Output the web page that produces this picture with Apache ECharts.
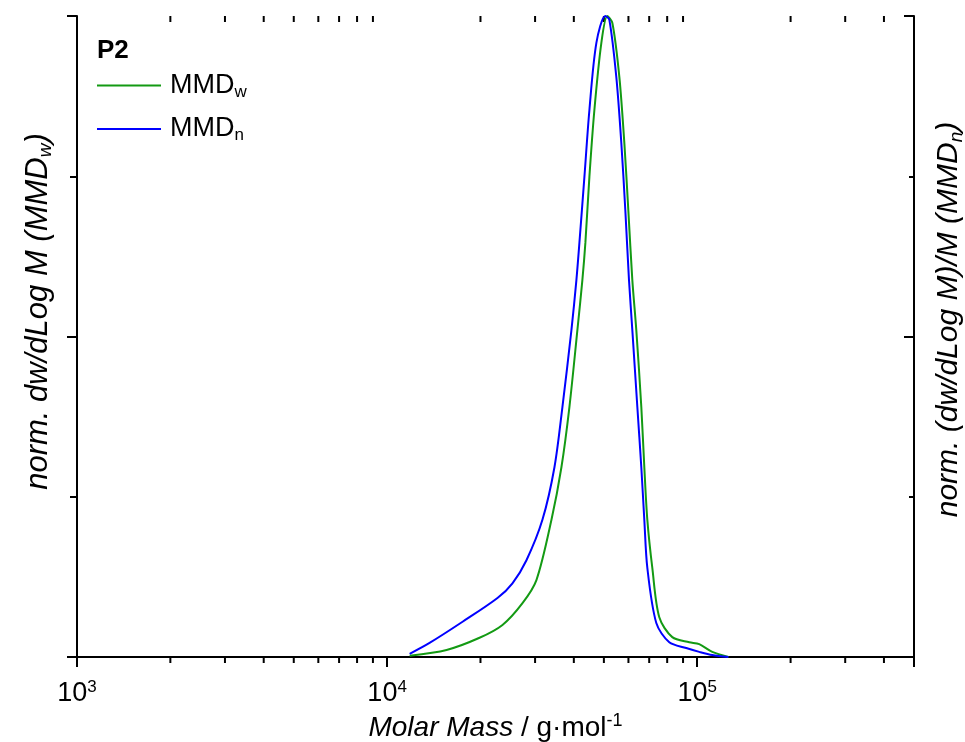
<!DOCTYPE html>
<html>
<head>
<meta charset="utf-8">
<script src="https://cdn.jsdelivr.net/npm/echarts@6/dist/echarts.min.js"></script>
<style>html,body{margin:0;padding:0;background:#fff;}#c{width:965px;height:742px;}</style>
</head>
<body>
<div id="c"></div>
<script>
// Molar mass (g/mol) and normalized intensity
const mmdwM = [11820, 15550, 19860, 23550, 27320, 30300, 33880, 36480, 38710, 41070, 42620, 43580, 44900, 46590, 49070, 51300, 53250, 56080, 58200, 59950, 61760, 63610, 66020, 67510, 69040, 71640, 75450, 83100, 94240, 101500, 111800, 126000];
const mmdwV = [0.002, 0.011, 0.030, 0.050, 0.084, 0.120, 0.214, 0.296, 0.390, 0.510, 0.588, 0.646, 0.749, 0.853, 0.958, 1.000, 0.989, 0.905, 0.802, 0.697, 0.588, 0.510, 0.390, 0.296, 0.214, 0.139, 0.062, 0.031, 0.023, 0.020, 0.008, 0.000];
const mmdnM = [11820, 13706, 17510, 22690, 25360, 28140, 31680, 34640, 36750, 39290, 40770, 41690, 43270, 44900, 47290, 50540, 52070, 54830, 56910, 58630, 60250, 61760, 64100, 66020, 67510, 69040, 73790, 81250, 92170, 101500, 111800, 126000];
const mmdnV = [0.005, 0.022, 0.055, 0.092, 0.115, 0.151, 0.214, 0.296, 0.390, 0.510, 0.588, 0.646, 0.749, 0.853, 0.958, 1.000, 0.994, 0.905, 0.802, 0.697, 0.588, 0.510, 0.390, 0.296, 0.214, 0.139, 0.053, 0.023, 0.014, 0.008, 0.003, 0.000];
const minorTickValues = [2000, 3000, 4000, 5000, 6000, 7000, 8000, 9000, 20000, 30000, 40000, 50000, 60000, 70000, 80000, 90000, 200000, 300000, 400000];
const xMin = 1000, xMax = 500000;
const seriesNames = ['MMD_w', 'MMD_n'];

const FONT = 'Liberation Sans, Arial, sans-serif';
const GREEN = '#139a13', BLUE = '#0000ff';

const chart = echarts.init(document.getElementById('c'), null, {renderer: 'canvas'});

function pow10Label(v) {
  const e = Math.round(Math.log10(v));
  if (Math.abs(v - Math.pow(10, e)) > 1e-6 * v) return '';
  return '{b|10}{s|' + e + '}';
}

const axisLineStyle = {color: '#000', width: 2};

chart.setOption({
  animation: false,
  backgroundColor: '#fff',
  grid: {left: 77, right: 51, top: 16, bottom: 85, containLabel: false, outerBoundsMode: 'none'},
  title: {
    text: 'P2', left: 97, top: 38, padding: 0,
    textStyle: {fontFamily: FONT, fontWeight: 'bold', fontSize: 26, color: '#000'}
  },
  legend: {
    orient: 'vertical', left: 97, top: 72, itemGap: 15, padding: 0,
    icon: 'rect', itemWidth: 64, itemHeight: 2,
    data: seriesNames,
    formatter: function (n) {
      const parts = n.split('_');
      return '{m|' + parts[0] + '}{s|' + parts[1] + '}';
    },
    textStyle: {
      fontFamily: FONT, color: '#000', padding: [0, 0, 0, 4],
      rich: {
        m: {fontSize: 27, lineHeight: 30, fontFamily: FONT, color: '#000'},
        s: {fontSize: 17, lineHeight: 14, verticalAlign: 'bottom', fontFamily: FONT, color: '#000'}
      }
    }
  },
  xAxis: [
    {
      type: 'log', logBase: 10, min: xMin, max: xMax, position: 'bottom',
      axisLine: {show: true, lineStyle: axisLineStyle},
      axisTick: {show: true, inside: false, length: 10, lineStyle: {color: '#000', width: 2}},
      splitLine: {show: false},
      axisLabel: {
        margin: 22, formatter: pow10Label,
        rich: {
          b: {fontFamily: FONT, fontSize: 27, lineHeight: 30, color: '#000'},
          s: {fontFamily: FONT, fontSize: 17, lineHeight: 16, verticalAlign: 'top', color: '#000'}
        }
      },
      name: '{i|Molar Mass}{n| / g·mol}{s|-1}',
      nameLocation: 'middle', nameGap: 48,
      nameTextStyle: {
        rich: {
          i: {fontFamily: FONT, fontSize: 28, fontStyle: 'italic', lineHeight: 32, color: '#000'},
          n: {fontFamily: FONT, fontSize: 28, lineHeight: 32, color: '#000'},
          s: {fontFamily: FONT, fontSize: 18, lineHeight: 16, verticalAlign: 'top', color: '#000'}
        }
      }
    },
    {
      type: 'log', logBase: 10, min: xMin, max: xMax, position: 'top',
      axisLine: {show: true, lineStyle: axisLineStyle},
      axisTick: {show: true, inside: true, length: 9, lineStyle: {color: '#000', width: 2}},
      axisLabel: {show: false},
      splitLine: {show: false}
    }
  ],
  yAxis: [
    {
      type: 'value', min: 0, max: 1, interval: 0.5, position: 'left',
      axisLine: {show: true, lineStyle: axisLineStyle},
      axisTick: {show: true, inside: false, length: 10, lineStyle: {color: '#000', width: 2}},
      minorTick: {show: true, splitNumber: 2, length: 7, lineStyle: {color: '#000', width: 2}},
      axisLabel: {show: false},
      splitLine: {show: false},
      name: '{n|norm. dw/dLog M (MMD}{s|w}{n|)}',
      nameLocation: 'middle', nameGap: 22,
      nameTextStyle: {
        padding: [0, 0, 0, 50],
        rich: {
          n: {fontFamily: FONT, fontSize: 31, fontStyle: 'italic', lineHeight: 34, color: '#000'},
          s: {fontFamily: FONT, fontSize: 19, fontStyle: 'italic', lineHeight: 14, verticalAlign: 'bottom', color: '#000'}
        }
      }
    },
    {
      type: 'value', min: 0, max: 1, interval: 0.5, position: 'right',
      axisLine: {show: true, lineStyle: axisLineStyle},
      axisTick: {show: true, inside: true, length: 10, lineStyle: {color: '#000', width: 2}},
      minorTick: {show: true, splitNumber: 2, length: 5, lineStyle: {color: '#000', width: 2}},
      axisLabel: {show: false},
      splitLine: {show: false},
      name: '{n|norm. (dw/dLog M)/M (MMD}{s|n}{n|)}',
      nameLocation: 'middle', nameGap: 18,
      nameRotate: 90,
      nameTextStyle: {
        padding: [0, 0, 0, 34],
        rich: {
          n: {fontFamily: FONT, fontSize: 30, fontStyle: 'italic', lineHeight: 34, color: '#000'},
          s: {fontFamily: FONT, fontSize: 19, fontStyle: 'italic', lineHeight: 14, verticalAlign: 'bottom', color: '#000'}
        }
      }
    }
  ],
  series: [
    {
      name: seriesNames[0], type: 'line', xAxisIndex: 0, yAxisIndex: 0,
      data: mmdwM.map((m, i) => [m, mmdwV[i]]),
      showSymbol: false, smooth: 0.3, clip: true,
      lineStyle: {color: GREEN, width: 2}, itemStyle: {color: GREEN}, z: 3
    },
    {
      name: seriesNames[1], type: 'line', xAxisIndex: 0, yAxisIndex: 0,
      data: mmdnM.map((m, i) => [m, mmdnV[i]]),
      showSymbol: false, smooth: 0.3, clip: true,
      lineStyle: {color: BLUE, width: 2}, itemStyle: {color: BLUE}, z: 4
    },
    {
      type: 'custom', xAxisIndex: 0, yAxisIndex: 0, clip: false, silent: true,
      data: minorTickValues.map(v => [v, 0]),
      encode: {x: 0, y: 1},
      renderItem: function (params, api) {
        const v = api.value(0);
        const b = api.coord([v, 0]);
        const t = api.coord([v, 1]);
        const st = {stroke: '#000', lineWidth: 2};
        return {
          type: 'group',
          children: [
            {type: 'line', shape: {x1: b[0], y1: b[1], x2: b[0], y2: b[1] + 6}, style: st},
            {type: 'line', shape: {x1: t[0], y1: t[1], x2: t[0], y2: t[1] + 6}, style: st}
          ]
        };
      }
    }
  ]
});
</script>
</body>
</html>
